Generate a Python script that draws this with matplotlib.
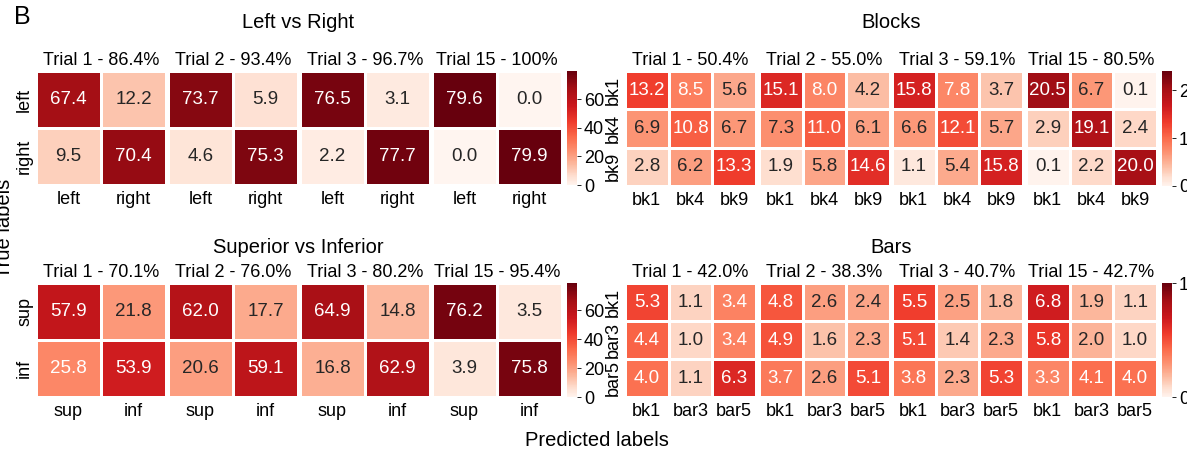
import numpy as np
import matplotlib
matplotlib.use("Agg")
import matplotlib.pyplot as plt
from matplotlib.colors import ListedColormap
import seaborn as sns

plt.rcParams['font.family'] = ['Liberation Sans', 'DejaVu Sans']

# confusion matrices (percent of all trials), four training stages per task
lr_titles = ['Trial 1 - 86.4%', 'Trial 2 - 93.4%', 'Trial 3 - 96.7%', 'Trial 15 - 100%']
lr_labels = ['left', 'right']
lr_values = [
    [[67.4, 12.2], [9.5, 70.4]],
    [[73.7, 5.9], [4.6, 75.3]],
    [[76.5, 3.1], [2.2, 77.7]],
    [[79.6, 0.0], [0.0, 79.9]],
]

si_titles = ['Trial 1 - 70.1%', 'Trial 2 - 76.0%', 'Trial 3 - 80.2%', 'Trial 15 - 95.4%']
si_labels = ['sup', 'inf']
si_values = [
    [[57.9, 21.8], [25.8, 53.9]],
    [[62.0, 17.7], [20.6, 59.1]],
    [[64.9, 14.8], [16.8, 62.9]],
    [[76.2, 3.5], [3.9, 75.8]],
]

blocks_titles = ['Trial 1 - 50.4%', 'Trial 2 - 55.0%', 'Trial 3 - 59.1%', 'Trial 15 - 80.5%']
blocks_labels = ['bk1', 'bk4', 'bk9']
blocks_values = [
    [[13.2, 8.5, 5.6], [6.9, 10.8, 6.7], [2.8, 6.2, 13.3]],
    [[15.1, 8.0, 4.2], [7.3, 11.0, 6.1], [1.9, 5.8, 14.6]],
    [[15.8, 7.8, 3.7], [6.6, 12.1, 5.7], [1.1, 5.4, 15.8]],
    [[20.5, 6.7, 0.1], [2.9, 19.1, 2.4], [0.1, 2.2, 20.0]],
]

bars_titles = ['Trial 1 - 42.0%', 'Trial 2 - 38.3%', 'Trial 3 - 40.7%', 'Trial 15 - 42.7%']
bars_labels = ['bk1', 'bar3', 'bar5']
bars_values = [
    [[5.3, 1.1, 3.4], [4.4, 1.0, 3.4], [4.0, 1.1, 6.3]],
    [[4.8, 2.6, 2.4], [4.9, 1.6, 2.3], [3.7, 2.6, 5.1]],
    [[5.5, 2.5, 1.8], [5.1, 1.4, 2.3], [3.8, 2.3, 5.3]],
    [[6.8, 1.9, 1.1], [5.8, 2.0, 1.0], [3.3, 4.1, 4.0]],
]

W, H = 1187, 461
fig = plt.figure(figsize=(W / 100, H / 100), dpi=100)

# Reds, pushed a little darker
reds = plt.get_cmap('Reds')
cmap = ListedColormap(reds(np.linspace(0, 1, 256) ** 0.8))


def rect(x0, y0, x1, y1):
    """pixel box (top-left origin) -> figure coords"""
    return [x0 / W, 1 - y1 / H, (x1 - x0) / W, (y1 - y0) / H]


def draw_group(xs, width, y0, y1, cbar_x, titles, labels, values, vmax, cticks):
    for i, (x, title, mat) in enumerate(zip(xs, titles, values)):
        ax = fig.add_axes(rect(x, y0, x + width, y1))
        last = i == len(xs) - 1
        cax = fig.add_axes(rect(cbar_x, y0, cbar_x + 10, y1)) if last else None
        sns.heatmap(np.array(mat), ax=ax, cmap=cmap, vmin=0, vmax=vmax,
                    annot=True, fmt='.1f', linewidths=0.8, linecolor='white',
                    annot_kws={'fontsize': 13.5},
                    xticklabels=labels, yticklabels=labels if i == 0 else False,
                    cbar=last, cbar_ax=cax)
        ax.set_title(title, fontsize=13, pad=4)
        ax.tick_params(axis='x', length=0, pad=4, labelsize=13, labelrotation=0)
        ax.tick_params(axis='y', length=0, pad=2, labelsize=13)
        if i == 0:
            for t in ax.get_yticklabels():
                t.set_rotation(90)
                t.set_va('center')
        if last:
            cax.set_yticks(cticks)
            cax.tick_params(length=3, width=0.6, pad=2, labelsize=13)


left_xs = [36, 168, 300, 432]
right_xs = [625, 759, 892, 1026]

draw_group(left_xs, 130, 71, 185, 567, lr_titles, lr_labels, lr_values, 80, [0, 20, 40, 60])
draw_group(right_xs, 131, 71, 186, 1162, blocks_titles, blocks_labels, blocks_values, 24, [0, 10, 20])
draw_group(left_xs, 130, 283, 397, 567, si_titles, si_labels, si_values, 79, [0, 20, 40, 60])
draw_group(right_xs, 131, 283, 397, 1162, bars_titles, bars_labels, bars_values, 10, [0, 10])

fig.text(298 / W, 1 - 22 / H, 'Left vs Right', ha='center', va='center', fontsize=14.5)
fig.text(891 / W, 1 - 22 / H, 'Blocks', ha='center', va='center', fontsize=14.5)
fig.text(298 / W, 1 - 247 / H, 'Superior vs Inferior', ha='center', va='center', fontsize=14.5)
fig.text(891 / W, 1 - 247 / H, 'Bars', ha='center', va='center', fontsize=14.5)

fig.text(597 / W, 1 - 440 / H, 'Predicted labels', ha='center', va='center', fontsize=14.5)
fig.text(5 / W, 1 - 228 / H, 'True labels', ha='center', va='center', rotation=90, fontsize=14.5)
fig.text(14 / W, 1 - 17 / H, 'B', ha='left', va='center', fontsize=18)

fig.savefig('out.png', dpi=100)
